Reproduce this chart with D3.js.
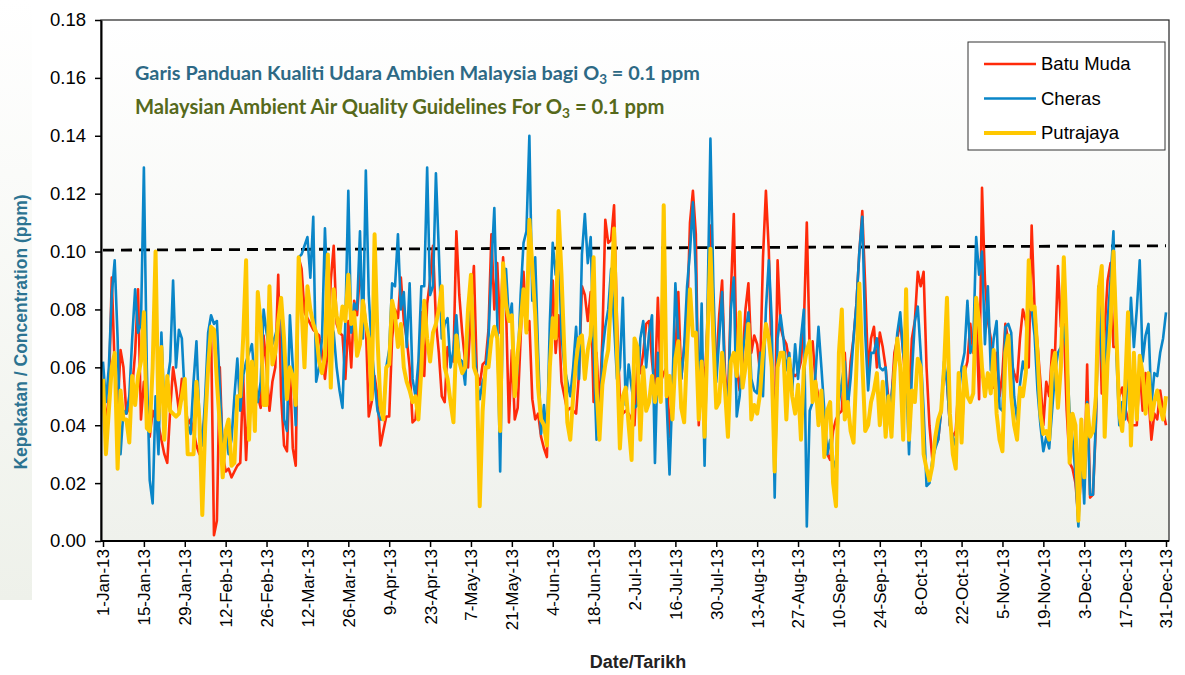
<!DOCTYPE html>
<html>
<head>
<meta charset="utf-8">
<script src="https://cdn.jsdelivr.net/npm/d3@7/dist/d3.min.js"></script>
<style>
  body { margin: 0; background: #fff; }
  text { font-family: "Liberation Sans", Arial, sans-serif; }
</style>
</head>
<body>
<svg id="chart" width="1185" height="675"></svg>
<script>
// daily O3, 2013 (values in ppb, plotted as ppm)
var batuMuda = [
  56,40,50,91,60,45,66,60,44,46, 53,65,87,42,55,50,36,45,42,40,
  35,30,27,45,60,53,45,56,50,40, 42,38,33,30,35,45,60,73,2,7,
  60,30,24,25,22,24,26,27,57,28, 50,62,55,50,46,71,60,45,55,60,
  92,50,33,31,60,32,26,98,94,79, 77,75,73,72,71,65,56,66,90,102,
  75,72,71,56,76,60,83,78,93,85, 75,43,48,57,50,33,38,43,43,70,
  80,77,91,76,70,60,41,42,55,79, 57,82,90,102,76,65,50,48,67,63,
  62,107,85,72,62,60,80,95,58,54, 61,62,73,106,80,96,72,98,81,41,
  66,42,46,70,93,72,76,49,42,44, 36,32,29,65,90,65,78,55,50,45,
  46,45,44,58,88,85,76,86,48,65, 45,70,111,103,104,116,76,49,44,45,
  44,42,40,62,58,65,75,76,62,53, 84,55,58,60,36,55,65,86,56,67,
  76,110,121,106,40,65,53,75,109,68, 60,78,90,58,46,85,113,60,52,62,
  80,89,65,71,68,58,98,121,100,60, 35,97,74,70,68,62,58,57,58,62,
  75,110,65,69,55,50,48,40,30,28, 38,42,44,45,65,46,62,70,82,100,
  114,88,58,70,74,60,72,67,60,48, 49,65,70,76,65,53,50,70,76,93,
  88,93,60,40,28,33,35,45,60,55, 40,36,38,55,34,58,62,75,65,78,
  49,122,90,76,70,53,65,50,58,75, 69,62,58,55,70,80,76,60,109,80,
  68,55,40,55,50,66,65,95,74,75, 45,27,25,20,8,25,20,61,15,16,
  40,88,51,73,90,96,67,67,50,53, 46,42,40,40,40,60,45,58,50,35,
  44,42,52,45,40
];
var cheras = [
  62,48,60,85,97,70,30,45,44,50, 70,87,72,75,129,60,21,13,50,30,
  72,45,55,62,90,60,73,70,50,40, 37,55,69,42,33,50,72,78,75,76,
  53,32,38,30,35,50,63,45,57,62, 65,68,55,48,55,80,72,66,68,71,
  75,84,42,38,78,60,40,98,99,102, 105,91,112,55,60,70,108,82,75,72,
  60,52,46,76,121,72,82,80,107,70, 128,85,67,55,45,42,42,60,66,89,
  88,106,80,86,67,89,56,50,62,88, 88,129,85,88,127,100,70,75,77,60,
  66,78,63,62,54,75,91,70,56,49, 55,58,70,95,115,76,24,83,94,76,
  82,50,60,85,103,107,140,83,98,65, 37,47,35,75,103,92,102,71,60,55,
  50,60,74,56,99,113,96,105,66,35, 36,65,74,80,94,75,56,60,84,47,
  61,53,46,47,70,76,60,72,78,27, 65,50,116,48,23,53,89,70,56,67,
  88,100,117,92,45,82,26,80,139,88, 55,70,86,53,46,80,91,43,50,65,
  72,79,56,52,51,65,50,80,97,76, 15,70,78,70,59,65,52,68,56,70,
  80,5,45,48,58,74,60,45,30,35, 25,28,48,55,62,46,56,70,82,100,
  112,72,52,65,65,70,60,59,60,42, 50,60,72,79,65,58,30,58,76,81,
  65,45,19,20,28,32,35,45,62,55, 40,36,33,50,60,65,83,65,68,105,
  92,100,68,88,59,70,76,46,45,74, 75,72,50,42,54,62,58,84,80,71,
  52,40,31,36,32,45,58,65,67,74, 65,44,35,23,5,33,13,48,16,16,
  42,88,63,53,76,90,107,65,40,48, 42,60,84,67,80,97,62,71,75,47,
  58,57,65,70,79
];
var putrajaya = [
  56,30,45,60,65,25,52,42,42,34, 57,47,57,62,79,39,38,60,100,42,
  67,35,57,45,44,43,44,50,56,30, 30,30,55,42,9,40,60,74,73,55,
  40,22,38,42,26,27,50,50,70,97, 35,62,38,86,75,47,47,88,61,65,
  76,84,70,49,60,57,47,98,80,60, 88,80,75,72,62,58,64,99,53,87,
  78,72,81,76,92,75,79,64,68,83, 75,70,49,106,70,47,42,60,61,83,
  78,67,75,60,55,52,48,50,42,59, 83,70,62,72,75,80,88,60,56,48,
  41,71,62,58,60,80,92,60,57,12, 45,60,60,70,74,70,38,96,82,76,
  78,50,65,75,87,72,111,95,78,53, 42,40,33,60,77,70,114,92,65,41,
  35,50,62,70,71,56,66,71,98,53, 35,54,61,66,85,108,65,32,50,53,
  40,28,70,67,35,60,45,48,57,48, 56,48,116,50,57,42,63,69,46,41,
  66,87,71,72,42,62,36,70,101,70, 46,48,65,52,36,62,65,57,79,53,
  60,75,42,47,44,51,65,75,70,60, 24,60,65,65,42,63,50,44,54,35,
  60,66,69,48,55,40,52,29,45,48, 20,12,65,80,42,48,38,34,60,89,
  62,38,40,48,52,58,40,55,36,50, 36,58,70,60,35,87,35,52,48,63,
  60,30,25,21,26,36,42,45,60,84, 44,30,25,58,34,60,50,48,51,84,
  76,60,50,58,51,66,44,35,31,65, 71,50,40,35,53,50,58,97,80,81,
  65,44,37,38,35,60,65,46,60,98, 70,27,44,40,7,42,22,47,36,38,
  50,87,95,36,62,75,100,72,44,38, 53,79,33,65,42,64,58,44,58,42,
  48,52,46,42,50
];
// guideline as drawn (ppb at 1-Jan and 31-Dec, the source line is slightly tilted)
var guideline = [100.5, 102];

var seriesNames = ["Batu Muda", "Cheras", "Putrajaya"];
var seriesColours = ["#ff2a0a", "#0a86c8", "#ffc800"];
var seriesWidths = [2.6, 2.6, 4];

var tickLabels = ["1-Jan-13","15-Jan-13","29-Jan-13","12-Feb-13","26-Feb-13","12-Mar-13",
  "26-Mar-13","9-Apr-13","23-Apr-13","7-May-13","21-May-13","4-Jun-13","18-Jun-13",
  "2-Jul-13","16-Jul-13","30-Jul-13","13-Aug-13","27-Aug-13","10-Sep-13","24-Sep-13",
  "8-Oct-13","22-Oct-13","5-Nov-13","19-Nov-13","3-Dec-13","17-Dec-13","31-Dec-13"];
var yTicks = [0, 0.02, 0.04, 0.06, 0.08, 0.10, 0.12, 0.14, 0.16, 0.18];

var plot = {left: 101, right: 1169, top: 20, bottom: 541};
var parseDate = d3.timeParse("%d-%b-%y");
var days = d3.timeDay.range(new Date(2013, 0, 1), new Date(2014, 0, 1));

var x = d3.scaleTime()
  .domain([days[0], days[days.length - 1]])
  .range([103, 1166]);
var y = d3.scaleLinear()
  .domain([0, 0.18])
  .range([plot.bottom, plot.top]);

var svg = d3.select("#chart");
var defs = svg.append("defs");
var grad = defs.append("linearGradient")
  .attr("id", "plotbg").attr("x1", 0).attr("y1", 0).attr("x2", 0).attr("y2", 1);
grad.append("stop").attr("offset", "0%").attr("stop-color", "#ffffff");
grad.append("stop").attr("offset", "100%").attr("stop-color", "#eff1ec");

// faint slide background at the lower left
var slide = defs.append("linearGradient")
  .attr("id", "slidebg").attr("x1", 0).attr("y1", 0).attr("x2", 0).attr("y2", 1);
slide.append("stop").attr("offset", "0%").attr("stop-color", "#ffffff");
slide.append("stop").attr("offset", "100%").attr("stop-color", "#eef1ea");
svg.append("rect").attr("x", 0).attr("y", 0).attr("width", 32).attr("height", 600)
  .attr("fill", "url(#slidebg)");

svg.append("rect")
  .attr("x", plot.left).attr("y", plot.top)
  .attr("width", plot.right - plot.left).attr("height", plot.bottom - plot.top)
  .attr("fill", "url(#plotbg)")
  .attr("stroke", "#222").attr("stroke-width", 1.2);

// guideline
svg.append("line")
  .attr("x1", x(days[0])).attr("y1", y(guideline[0] / 1000))
  .attr("x2", x(days[days.length - 1])).attr("y2", y(guideline[1] / 1000))
  .attr("stroke", "#000").attr("stroke-width", 2.8)
  .attr("stroke-dasharray", "11,7");

var line = d3.line()
  .x(function (d, i) { return x(days[i]); })
  .y(function (d) { return y(d / 1000); });

[batuMuda, cheras, putrajaya].forEach(function (s, k) {
  svg.append("path")
    .datum(s)
    .attr("d", line)
    .attr("fill", "none")
    .attr("stroke", seriesColours[k])
    .attr("stroke-width", seriesWidths[k])
    .attr("stroke-linejoin", "round");
});

// axes
var yAxis = svg.append("g")
  .attr("transform", "translate(" + plot.left + ",0)")
  .call(d3.axisLeft(y).tickValues(yTicks).tickFormat(d3.format(".2f")).tickSize(6).tickSizeOuter(0));
yAxis.select(".domain").attr("stroke", "#000").attr("stroke-width", 2);
yAxis.selectAll(".tick line").attr("stroke", "#000").attr("stroke-width", 1.5);
yAxis.selectAll(".tick text")
  .attr("x", -15)
  .style("font-size", "18.5px").attr("fill", "#000");

var xAxis = svg.append("g")
  .attr("transform", "translate(0," + plot.bottom + ")")
  .call(d3.axisBottom(x)
    .tickValues(tickLabels.map(parseDate))
    .tickFormat(function (d, i) { return tickLabels[i]; })
    .tickSize(6).tickSizeOuter(0));
xAxis.select(".domain").attr("stroke", "#000").attr("stroke-width", 2)
  .attr("d", "M" + plot.left + ",0H" + plot.right);
xAxis.selectAll(".tick line").attr("stroke", "#000").attr("stroke-width", 1.5);
xAxis.selectAll(".tick text")
  .attr("transform", "rotate(-90)")
  .attr("text-anchor", "end")
  .attr("x", -8).attr("y", 0).attr("dy", "0.35em")
  .style("font-size", "17px").attr("fill", "#000");

svg.append("text")
  .attr("x", 638).attr("y", 668)
  .attr("text-anchor", "middle")
  .style("font-size", "18px").style("font-weight", "bold")
  .attr("fill", "#222")
  .text("Date/Tarikh");

svg.append("text")
  .attr("transform", "translate(27,332) rotate(-90)")
  .attr("text-anchor", "middle")
  .style("font-size", "17.5px").style("font-weight", "bold")
  .attr("fill", "#2c7391")
  .text("Kepekatan / Concentration (ppm)");

// guideline captions with subscript O3
function caption(yPos, lead, colour, targetWidth) {
  var t = svg.append("text")
    .attr("x", 135).attr("y", yPos)
    .style("font-family", "Lato, 'Open Sans', sans-serif")
    .style("font-weight", "bold")
    .style("font-size", "16px")
    .attr("fill", colour);
  t.append("tspan").text(lead + "O");
  t.append("tspan").attr("dy", 4).style("font-size", "11px").text("3");
  t.append("tspan").attr("dy", -4).text(" = 0.1 ppm");
  var w = t.node().getComputedTextLength();
  var fs = 16 * targetWidth / w;
  t.style("font-size", fs + "px");
  t.select("tspan:nth-child(2)").style("font-size", (fs * 0.68) + "px");
}
caption(80, "Garis Panduan Kualiti Udara Ambien Malaysia bagi ", "#2d6985", 565);
caption(114, "Malaysian Ambient Air Quality Guidelines For ", "#56691b", 530);

// legend
var legend = svg.append("g");
legend.append("rect")
  .attr("x", 968).attr("y", 42).attr("width", 197).attr("height", 108)
  .attr("fill", "#fff").attr("stroke", "#333").attr("stroke-width", 1);
seriesNames.forEach(function (name, k) {
  var ly = 64 + k * 34.5;
  legend.append("line")
    .attr("x1", 984).attr("x2", 1036).attr("y1", ly).attr("y2", ly)
    .attr("stroke", seriesColours[k]).attr("stroke-width", seriesWidths[k]);
  legend.append("text")
    .attr("x", 1041).attr("y", ly).attr("dy", "0.35em")
    .style("font-size", "18.5px").attr("fill", "#000")
    .text(name);
});
</script>
</body>
</html>
